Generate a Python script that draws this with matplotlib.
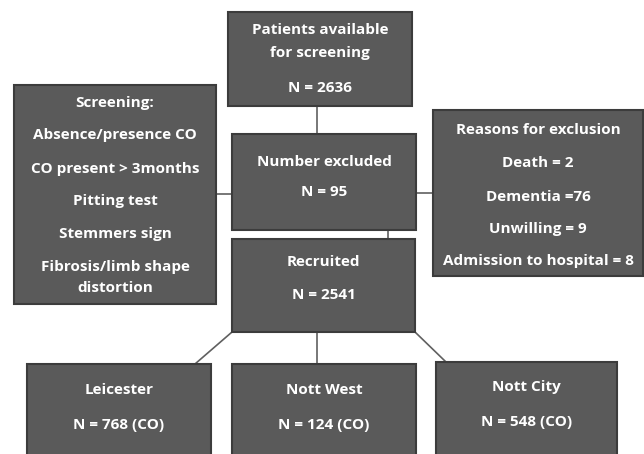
import matplotlib.pyplot as plt
from matplotlib.patches import Rectangle

plt.rcParams['font.family'] = ['Open Sans', 'DejaVu Sans']

# text content
top_lines = ['Patients available', 'for screening', 'N = 2636']
screen_lines = ['Screening:', 'Absence/presence CO', 'CO present > 3months',
                'Pitting test', 'Stemmers sign', 'Fibrosis/limb shape', 'distortion']
excluded_lines = ['Number excluded', 'N = 95']
reason_lines = ['Reasons for exclusion', 'Death = 2', 'Dementia =76',
                'Unwilling = 9', 'Admission to hospital = 8']
recruited_lines = ['Recruited', 'N = 2541']
sites = ['Leicester', 'Nott West', 'Nott City']
site_counts = [768, 124, 548]

FILL = '#5a5a5a'
EDGE = '#3c3c3c'
LINE = '#606060'

fig = plt.figure(figsize=(6.44, 4.54), dpi=100)
ax = fig.add_axes([0, 0, 1, 1])
ax.set_xlim(0, 644)
ax.set_ylim(454, 0)
ax.axis('off')


def box(x0, y0, x1, y1, lines, ys, size=11):
    ax.add_patch(Rectangle((x0, y0), x1 - x0, y1 - y0, facecolor=FILL,
                           edgecolor=EDGE, linewidth=1.5, zorder=2))
    cx = (x0 + x1) / 2
    for t, y in zip(lines, ys):
        ax.text(cx, y, t, color='white', fontsize=size, fontweight='bold',
                ha='center', va='center', zorder=3)


def line(xs, ys):
    ax.plot(xs, ys, color=LINE, linewidth=1.2, zorder=1)


# connectors
line([317, 317], [106, 135])
line([216, 232], [194, 194])
line([416, 433], [193, 193])
line([388, 388], [229, 240])
line([317, 317], [332, 364])
line([232, 195], [332, 364])
line([415, 446], [332, 362])

box(228, 12, 412, 106, top_lines, [30, 53, 88])
box(14, 85, 216, 304, screen_lines, [103, 135, 169, 201, 234, 267, 288])
box(232, 134, 416, 230, excluded_lines, [162, 192])
box(433, 110, 643, 276, reason_lines, [130, 163, 197, 229, 261])
box(232, 239, 415, 332, recruited_lines, [262, 295])

site_boxes = [(27, 364, 211, 460), (232, 364, 416, 460), (436, 362, 617, 460)]
site_y = [(390, 425), (390, 425), (387, 422)]
for name, n, (x0, y0, x1, y1), ys in zip(sites, site_counts, site_boxes, site_y):
    box(x0, y0, x1, y1, [name, f'N = {n} (CO)'], ys)

fig.savefig('out.png', dpi=100)
